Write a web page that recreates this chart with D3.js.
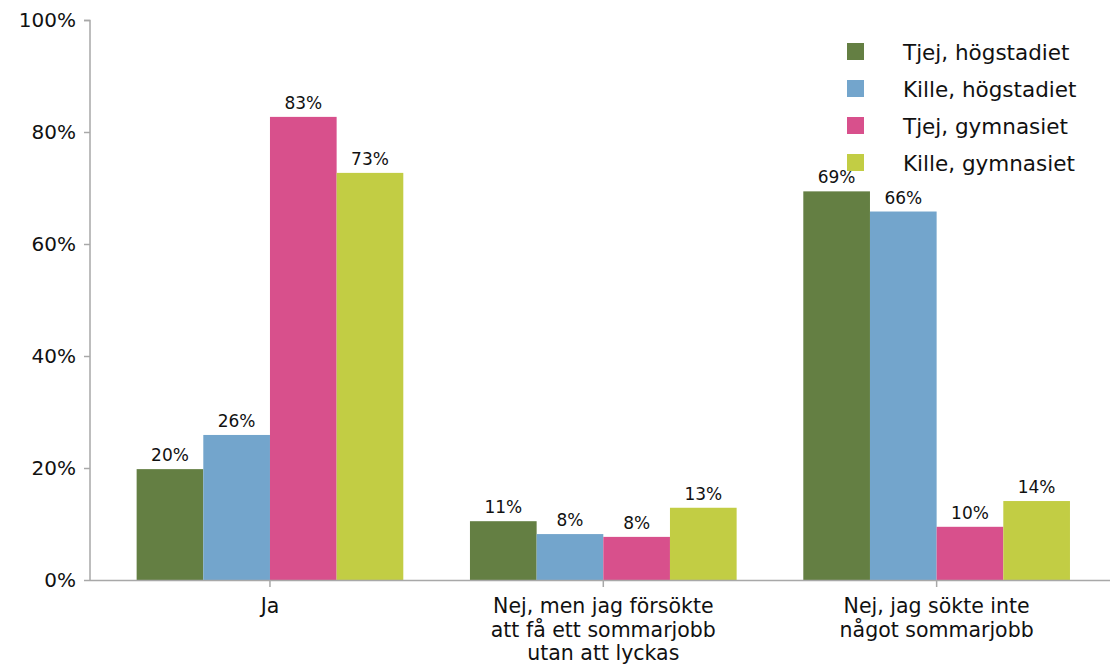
<!DOCTYPE html>
<html><head><meta charset="utf-8">
<script src="https://cdn.jsdelivr.net/npm/d3@7"></script>
<style>body{margin:0;background:#fff}svg{display:block;font-family:"DejaVu Sans",sans-serif}</style>
</head><body><svg id="c" width="1110" height="666"></svg>
<script>
const categories = ["Ja", "Nej, men jag försökte att få ett sommarjobb utan att lyckas", "Nej, jag sökte inte något sommarjobb"];
const categoryLines = [["Ja"], ["Nej, men jag försökte", "att få ett sommarjobb", "utan att lyckas"], ["Nej, jag sökte inte", "något sommarjobb"]];
const seriesNames = ["Tjej, högstadiet", "Kille, högstadiet", "Tjej, gymnasiet", "Kille, gymnasiet"];
const seriesColors = ["#647f43", "#73a5cc", "#d8508c", "#c2cd44"];
const tjejHog = [19.8, 10.5, 69.4];
const killeHog = [25.9, 8.2, 65.8];
const tjejGym = [82.7, 7.7, 9.5];
const killeGym = [72.7, 12.9, 14.1];
const yTicks = [0, 20, 40, 60, 80, 100];

const seriesValues = [tjejHog, killeHog, tjejGym, killeGym];
const svg = d3.select("#c");
const y = d3.scaleLinear().domain([0, 100]).range([580, 20]);
const x0 = d3.scaleBand().domain(categories).range([103.3, 1103.3]);
const bw = x0.bandwidth();
const x1 = d3.scaleBand().domain(seriesNames).range([0.1 * bw, 0.9 * bw]);
const axisColor = "#a8a8a8";

// y axis
const yAxis = svg.append("g").attr("transform", "translate(90,0)")
  .call(d3.axisLeft(y).tickValues(yTicks).tickFormat(d => d + "%").tickSize(6).tickPadding(8));
yAxis.select(".domain").attr("stroke", axisColor).attr("stroke-width", 1.5).attr("d", "M-6,20.5H0V580");
yAxis.selectAll(".tick line").attr("stroke", axisColor).attr("stroke-width", 1.5);
yAxis.selectAll(".tick text").attr("font-size", 20).attr("fill", "#111").attr("font-family", "DejaVu Sans, sans-serif");

// bars
const groups = svg.append("g").selectAll("g").data(categories).join("g")
  .attr("transform", d => `translate(${x0(d)},0)`);
groups.each(function(cat, ci) {
  const g = d3.select(this);
  seriesNames.forEach((s, si) => {
    const v = seriesValues[si][ci];
    g.append("rect").attr("x", x1(s)).attr("width", x1.bandwidth())
      .attr("y", y(v)).attr("height", y(0) - y(v)).attr("fill", seriesColors[si]);
    g.append("text").attr("x", x1(s) + x1.bandwidth() / 2).attr("y", y(v) - 8)
      .attr("text-anchor", "middle").attr("font-size", 17).attr("fill", "#111")
      .text(Math.round(v) + "%");
  });
});

// x axis
const xAxis = svg.append("g").attr("transform", "translate(0,580)")
  .call(d3.axisBottom(x0).tickSize(7).tickFormat(""));
xAxis.select(".domain").attr("stroke", axisColor).attr("stroke-width", 1.5).attr("d", "M90,0.5H1110");
xAxis.selectAll(".tick line").attr("stroke", axisColor).attr("stroke-width", 1.5);
xAxis.selectAll(".tick").each(function(d, i) {
  const t = d3.select(this).append("text").attr("text-anchor", "middle")
    .attr("font-size", 20.5).attr("fill", "#111").attr("font-family", "DejaVu Sans, sans-serif");
  categoryLines[i].forEach((line, li) => {
    t.append("tspan").attr("x", 0).attr("y", 33 + li * 23.5).text(line);
  });
});

// legend
const legend = svg.append("g").attr("transform", "translate(847,43)");
seriesNames.forEach((s, i) => {
  const g = legend.append("g").attr("transform", `translate(0,${i * 37})`);
  g.append("rect").attr("width", 17).attr("height", 17).attr("fill", seriesColors[i]);
  g.append("text").attr("x", 56).attr("y", 16.5).attr("font-size", 21.5).attr("fill", "#111").text(s);
});
</script></body></html>
